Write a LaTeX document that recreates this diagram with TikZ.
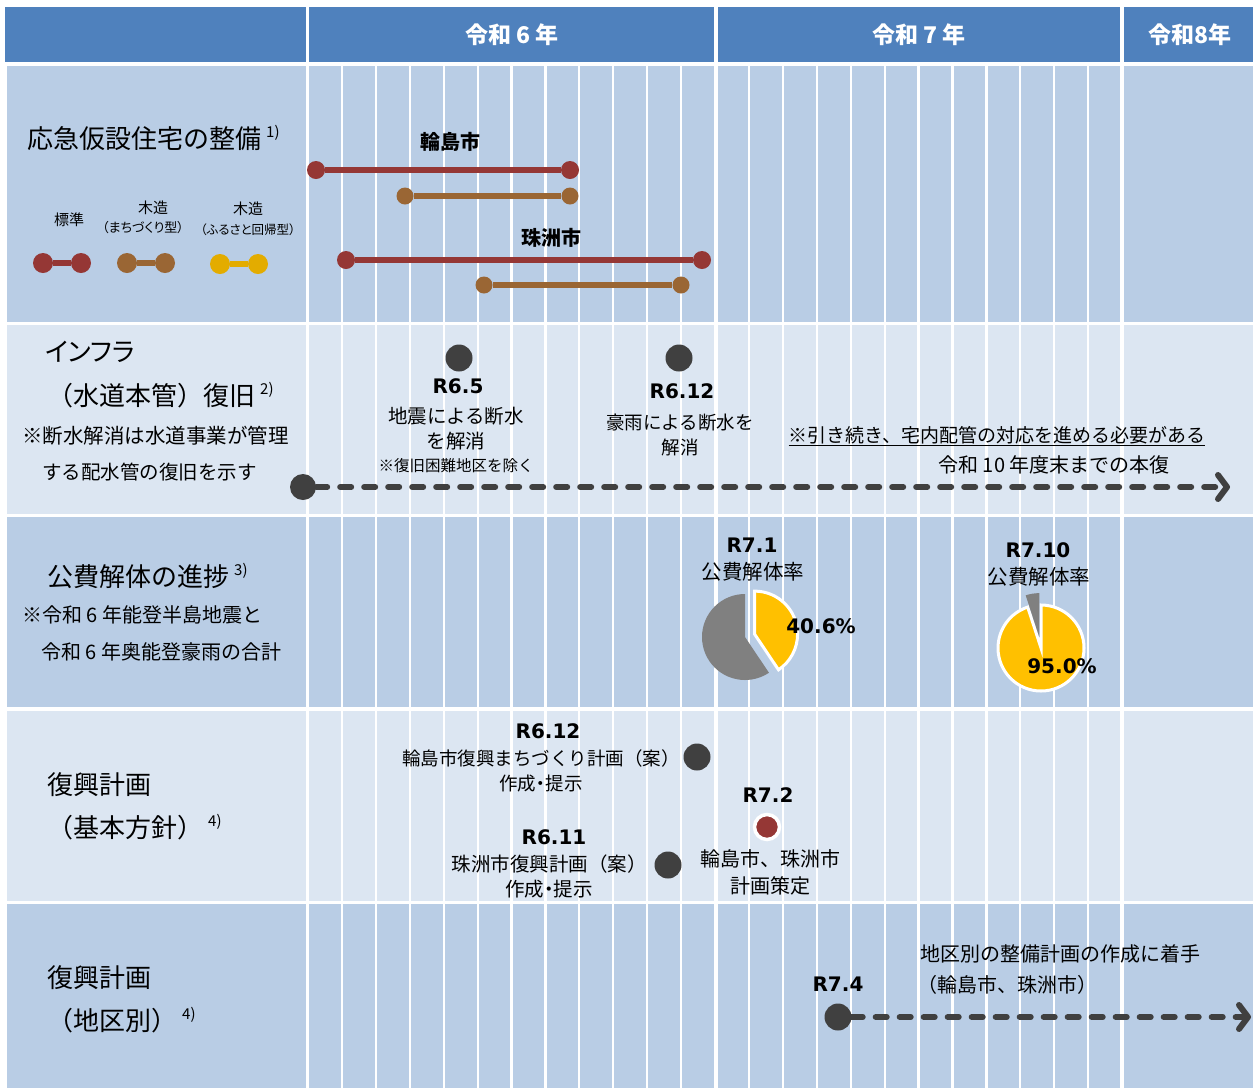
\documentclass[tikz,border=0pt]{standalone}
\usepackage{fontspec}
\setmainfont{Noto Sans CJK JP}
\newfontfamily\paltfont{Noto Sans CJK JP}[RawFeature=+palt]
\newfontfamily\latfont{DejaVu Sans}
\usetikzlibrary{arrows.meta}

\definecolor{hdrblue}{HTML}{4F81BD}
\definecolor{rowdark}{HTML}{B9CDE5}
\definecolor{rowlight}{HTML}{DCE6F2}
\definecolor{barred}{HTML}{953735}
\definecolor{barbrown}{HTML}{9A6634}
\definecolor{baryellow}{HTML}{E3AC00}
\definecolor{dotgray}{HTML}{404040}
\definecolor{pieyellow}{HTML}{FFC000}
\definecolor{piegray}{HTML}{808080}

\newcommand{\sups}[1]{\hspace{5pt}\raisebox{.45em}{\fontsize{15}{15}\selectfont #1}}
\newcommand{\nakaguro}{{\paltfont ・}}

\tikzset{
  ttl/.style={anchor=west, inner sep=0, font=\fontsize{26}{30}\selectfont},
  note/.style={anchor=west, inner sep=0, font=\fontsize{20.5}{25}\selectfont},
  txt/.style={inner sep=0, align=center, font=\fontsize{19.5}{25}\selectfont},
  legend/.style={inner sep=0, font=\paltfont\fontsize{15}{18}\selectfont},
  date/.style={inner sep=0, font=\latfont\bfseries\fontsize{20}{24}\selectfont},
  yr/.style={text=white, font=\bfseries\fontsize{23}{28}\selectfont},
  town/.style={inner sep=0, font=\bfseries\fontsize{20}{24}\selectfont},
  dot/.style={circle, fill=dotgray, inner sep=0, minimum size=27pt},
  rdot/.style={circle, fill=barred, inner sep=0, minimum size=18pt},
  bdot/.style={circle, fill=barbrown, inner sep=0, minimum size=17pt},
  ydot/.style={circle, fill=baryellow, inner sep=0, minimum size=20pt},
  rbar/.style={barred, line width=6.5pt},
  bbar/.style={barbrown, line width=6pt},
  ybar/.style={baryellow, line width=6.5pt},
  future/.style={dotgray, line width=6pt, line cap=round, dash pattern=on 11pt off 13pt,
    -{Straight Barb[length=9pt,width=24pt,round]}},
}

\begin{document}
\begin{tikzpicture}[x=1pt,y=-1pt]
  \useasboundingbox (0,0) rectangle (1253,1088);

  % header
  \fill[hdrblue] (5,7) rectangle (306,62);
  \fill[hdrblue] (309,7) rectangle (714,62);
  \fill[hdrblue] (718,7) rectangle (1120,62);
  \fill[hdrblue] (1124,7) rectangle (1253,62);
  \node[yr] (r6) at (512,35) {令和 6 年};
  \node[yr] (r7) at (919,35) {令和 7 年};
  \node[yr] (r8) at (1190,35) {令和8年};

  % rows and month grid
  \foreach \top/\bot/\col in {66/322/rowdark,325/514/rowlight,517/707/rowdark,711/901/rowlight,904/1088/rowdark} {
    \fill[\col] (7,\top) rectangle (306,\bot);
    \fill[\col] (309,\top) rectangle (1253,\bot);
  }
  \foreach \k in {1,...,23}
    \draw[white,line width=2.2pt] ({308+33.92*\k},66) -- ({308+33.92*\k},1088);
  \draw[white,line width=3.5pt] (716,66) -- (716,1088);
  \draw[white,line width=3.5pt] (1122,66) -- (1122,1088);

  % 1) temporary housing
  \node[ttl] (t1) at (27,138) {応急仮設住宅の整備\sups{1)}};
  \node[legend] (lg1) at (69,220) {標準};
  \node[legend] (lg2) at (153,208) {木造};
  \node[legend,font=\paltfont\fontsize{13}{15}\selectfont] (lg2b) at (143,228) {（まちづくり型）};
  \node[legend] (lg3) at (248,209) {木造};
  \node[legend,font=\paltfont\fontsize{12.5}{15}\selectfont] (lg3b) at (248,230) {（ふるさと回帰型）};
  \node[rdot,minimum size=20pt] (lr1) at (43,263) {};
  \node[rdot,minimum size=20pt] (lr2) at (81,263) {};
  \draw[rbar] (lr1) -- (lr2);
  \node[bdot,minimum size=20pt] (lb1) at (127,263) {};
  \node[bdot,minimum size=20pt] (lb2) at (165,263) {};
  \draw[bbar] (lb1) -- (lb2);
  \node[ydot] (ly1) at (220,264) {};
  \node[ydot] (ly2) at (258,264) {};
  \draw[ybar] (ly1) -- (ly2);

  \node[town] (wajima) at (450,142) {輪島市};
  \node[rdot] (wr1) at (316,170) {};
  \node[rdot] (wr2) at (570,170) {};
  \draw[rbar] (wr1) -- (wr2);
  \node[bdot] (wb1) at (405,196) {};
  \node[bdot] (wb2) at (570,196) {};
  \draw[bbar] (wb1) -- (wb2);
  \node[town] (suzu) at (551,238) {珠洲市};
  \node[rdot] (sr1) at (346,260) {};
  \node[rdot] (sr2) at (702,260) {};
  \draw[rbar] (sr1) -- (sr2);
  \node[bdot] (sb1) at (484,285) {};
  \node[bdot] (sb2) at (681,285) {};
  \draw[bbar] (sb1) -- (sb2);

  % 2) water mains
  \node[ttl,font=\paltfont\fontsize{26}{30}\selectfont] (t2a) at (45,352) {インフラ};
  \node[ttl] (t2b) at (47,395) {（水道本管）復旧\sups{2)}};
  \node[note] (n2a) at (22,436) {※断水解消は水道事業が管理};
  \node[note,font=\fontsize{19.5}{25}\selectfont] (n2b) at (42,472) {する配水管の復旧を示す};

  \node[dot] (m65) at (459,358) {};
  \node[date] (d65) at (458,386) {R6.5};
  \node[txt] (x65) at (456,429) {地震による断水\\を解消};
  \node[inner sep=0,font=\fontsize{15.5}{18}\selectfont] (x65b) at (456,466) {※復旧困難地区を除く};
  \node[dot] (m612) at (679,358) {};
  \node[date] (d612) at (682,391) {R6.12};
  \node[txt,font=\fontsize{18.5}{25}\selectfont] (x612) at (680,435) {豪雨による断水を\\解消};
  \node[txt,font=\fontsize{19}{25}\selectfont] (keep) at (997,436) {\underline{※引き続き、宅内配管の対応を進める必要がある}};
  \node[txt,font=\fontsize{20}{25}\selectfont] (r10) at (1054,465) {令和 10 年度末までの本復};

  \node[dot,minimum size=26pt] (w0) at (303,487) {};
  \coordinate (w1) at (1230,487);
  \draw[future] (w0) -- (w1);

  % 3) demolition
  \node[ttl] (t3) at (47,576) {公費解体の進捗\sups{3)}};
  \node[note,font=\fontsize{20}{25}\selectfont] (n3a) at (22,615) {※令和 6 年能登半島地震と};
  \node[note,font=\fontsize{20}{25}\selectfont] (n3b) at (41,652) {令和 6 年奥能登豪雨の合計};

  \node[date] (d71) at (752,545) {R7.1};
  \node[txt,font=\fontsize{20.5}{25}\selectfont] (x71) at (753,572) {公費解体率};
  \begin{scope}[shift={(745,637)},y=1pt]
    \fill[piegray] (0,0) -- (90:43) arc[start angle=90,end angle=303.84,radius=43] -- cycle;
    \draw[fill=pieyellow,draw=white,line width=3pt,shift={(16.9:10)}]
      (0,0) -- (90:43) arc[start angle=90,end angle=-56.16,radius=43] -- cycle;
  \end{scope}
  \node[date] (p71) at (821,626) {40.6\%};

  \node[date] (d710) at (1038,550) {R7.10};
  \node[txt,font=\fontsize{20.5}{25}\selectfont] (x710) at (1039,577) {公費解体率};
  \begin{scope}[shift={(1041,648)},y=1pt]
    \draw[fill=pieyellow,draw=white,line width=3pt]
      (0,0) -- (90:43) arc[start angle=90,end angle=-252,radius=43] -- cycle;
    \fill[piegray,shift={(99:11)}] (0,0) -- (90:44) arc[start angle=90,end angle=108,radius=44] -- cycle;
  \end{scope}
  \node[date] (p710) at (1062,666) {95.0\%};

  % 4) reconstruction plan (basic policy)
  \node[ttl] (t4a) at (47,785) {復興計画};
  \node[ttl] (t4b) at (47,827) {（基本方針）\sups{4)}};

  \node[date] (d612b) at (548,731) {R6.12};
  \node[txt,font=\fontsize{18.5}{25}\selectfont] (x612b) at (541,771) {輪島市復興まちづくり計画（案）\\作成\nakaguro 提示};
  \node[dot] (m612b) at (697,757) {};
  \node[date] (d611) at (554,837) {R6.11};
  \node[txt] (x611) at (549,876) {珠洲市復興計画（案）\\作成\nakaguro 提示};
  \node[dot] (m611) at (668,865) {};
  \node[date] (d72) at (768,795) {R7.2};
  \node[rdot,minimum size=25pt,draw=white,line width=3.5pt] (m72) at (767,827) {};
  \node[txt,font=\fontsize{20}{27}\selectfont] (x72) at (770,872) {輪島市、珠洲市\\計画策定};

  % 5) reconstruction plan (by district)
  \node[ttl] (t5a) at (47,978) {復興計画};
  \node[ttl] (t5b) at (47,1020) {（地区別）\sups{4)}};

  \node[txt,font=\fontsize{20}{25}\selectfont] (x74) at (1060,954) {地区別の整備計画の作成に着手};
  \node[txt,anchor=west,font=\fontsize{20}{25}\selectfont] (x74b) at (917,985) {（輪島市、珠洲市）};
  \node[date] (d74) at (838,984) {R7.4};
  \node[dot] (m74) at (838,1017) {};
  \coordinate (e74) at (1251,1017);
  \draw[future] (m74) -- (e74);
\end{tikzpicture}
\end{document}
